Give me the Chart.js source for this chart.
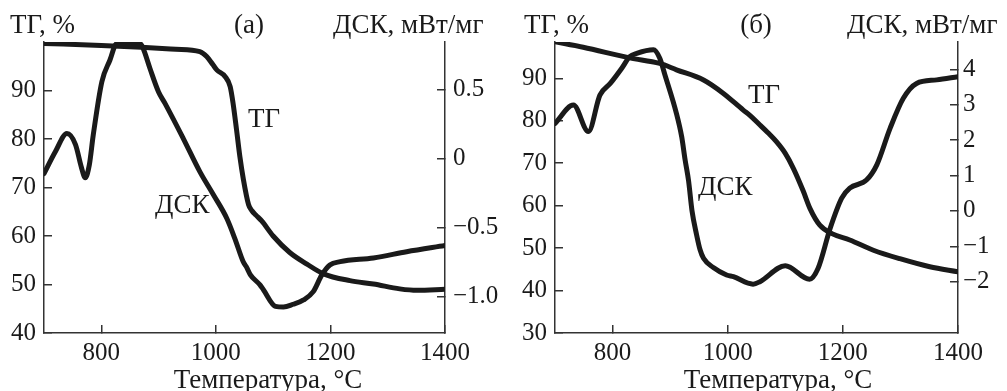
<!DOCTYPE html>
<html>
<head>
<meta charset="utf-8">
<script src="https://cdn.jsdelivr.net/npm/chart.js@4"></script>
<style>
	body { margin: 0; background: #fff; }
	#wrap { position: relative; width: 1007px; height: 391px; background: #fff; }
	canvas { position: absolute; top: 0; }
</style>
</head>
<body>
<div id="wrap">
	<canvas id="chartA" width="500" height="391" style="left:0"></canvas>
	<canvas id="chartB" width="507" height="391" style="left:500px"></canvas>
</div>
<script>
// Data

// Panel (a)
const tempTgA = [700, 800, 870, 930, 972, 984, 995, 1002, 1016, 1025, 1030, 1036, 1042, 1048, 1057, 1063, 1070, 1080, 1100, 1129, 1159, 1188, 1234, 1275, 1321, 1351, 1400];
const tgA = [99.7, 99.3, 98.9, 98.5, 98.0, 97.0, 95.3, 94.2, 92.9, 90.8, 87.4, 82.0, 76.3, 71.7, 66.5, 65.2, 64.3, 63.1, 60.0, 56.6, 54.2, 52.2, 50.8, 50.1, 49.1, 48.8, 49.0];

const tempDscA = [700, 720, 740, 755, 765, 772, 779, 786, 801, 815, 827, 868, 873, 885, 900, 911, 943, 972, 996, 1019, 1033, 1048, 1054, 1060, 1077, 1083, 1104, 1118, 1135, 1153, 1170, 1185, 1199, 1217, 1275, 1333, 1400];
const dscA = [-0.11, 0.05, 0.18, 0.10, -0.06, -0.14, -0.05, 0.17, 0.555, 0.71, 0.83, 0.83, 0.796, 0.65, 0.48, 0.40, 0.145, -0.096, -0.265, -0.433, -0.578, -0.75, -0.79, -0.84, -0.915, -0.95, -1.07, -1.075, -1.055, -1.024, -0.964, -0.843, -0.771, -0.747, -0.72, -0.675, -0.63];

// Panel (b)
const tempTgB = [700, 749, 830, 882, 911, 958, 992, 1027, 1039, 1056, 1069, 1085, 1100, 1114, 1131, 1143, 1160, 1181, 1212, 1253, 1299, 1351, 1400];
const tgB = [98.6, 97.3, 94.8, 93.5, 92.0, 89.6, 86.5, 82.5, 81.2, 79.0, 77.3, 75.0, 72.3, 68.8, 63.5, 59.3, 55.4, 53.4, 51.9, 49.5, 47.5, 45.6, 44.4];

const tempDscB = [700, 732, 758, 778, 796, 816, 830, 842, 871, 882, 891, 911, 920, 926, 932, 938, 946, 952, 958, 975, 998, 1010, 1044, 1056, 1100, 1142, 1157, 1178, 1198, 1212, 1241, 1259, 1282, 1305, 1328, 1363, 1400];
const dscB = [2.47, 2.99, 2.24, 3.27, 3.60, 4.03, 4.36, 4.45, 4.55, 4.31, 3.84, 2.75, 2.10, 1.44, 0.85, 0.0, -0.68, -1.1, -1.34, -1.6, -1.81, -1.86, -2.07, -2.0, -1.55, -1.93, -1.62, -0.49, 0.36, 0.64, 0.87, 1.30, 2.33, 3.18, 3.60, 3.70, 3.79];

// Tick labels
const xTicks = [800, 1000, 1200, 1400];
const tgTicksA = [40, 50, 60, 70, 80, 90];
const dscTicksA = [-1.0, -0.5, 0, 0.5];
const tgTicksB = [30, 40, 50, 60, 70, 80, 90];
const dscTicksB = [-2, -1, 0, 1, 2, 3, 4];

const ink = "#1a1a1a";
const axisColor = "#333";
const serif = '"Liberation Serif", "Times New Roman", serif';

Chart.defaults.font.family = serif;
Chart.defaults.font.size = 25;
Chart.defaults.color = ink;

function toPoints(xs, ys) {
	return xs.map((x, i) => ({ x: x, y: ys[i] }));
}

function minusSign(text) {
	return String(text).replace("-", "\u2212");
}

// draws the axis captions and curve labels
const textPlugin = {
	id: "panelText",
	afterDraw(chart, args, opts) {
		const ctx = chart.ctx;
		ctx.save();
		ctx.fillStyle = ink;
		ctx.font = "27px " + serif;
		ctx.textBaseline = "alphabetic";
		opts.items.forEach(function (t) {
			ctx.textAlign = t.align || "left";
			ctx.fillText(t.text, t.x, t.y);
		});
		ctx.restore();
	},
};

function lineSet(points, axisId) {
	return {
		data: points,
		yAxisID: axisId,
		borderColor: ink,
		borderWidth: 5,
		pointRadius: 0,
		fill: false,
		cubicInterpolationMode: "monotone",
		borderCapStyle: "round",
		borderJoinStyle: "round",
	};
}

function tickGrid() {
	return {
		display: true,
		drawOnChartArea: false,
		drawTicks: true,
		tickLength: -8,
		color: axisColor,
		tickColor: axisColor,
		lineWidth: 1.5,
		tickWidth: 1.5,
	};
}

function makePanel(canvasId, p) {
	const ctx = document.getElementById(canvasId).getContext("2d");
	return new Chart(ctx, {
		type: "line",
		data: {
			datasets: [
				lineSet(toPoints(p.tgTemp, p.tg), "y"),
				lineSet(toPoints(p.dscTemp, p.dsc), "y1"),
			],
		},
		options: {
			responsive: false,
			animation: false,
			layout: { padding: { top: 42, left: 0, right: 0, bottom: 0 } },
			plugins: {
				legend: { display: false },
				tooltip: { enabled: false },
				panelText: { items: p.texts },
			},
			scales: {
				x: {
					type: "linear",
					min: 700,
					max: 1400,
					afterBuildTicks: (s) => { s.ticks = xTicks.map((v) => ({ value: v })); },
					afterFit: (s) => { s.height = 58; },
					ticks: { padding: 13, maxRotation: 0, callback: (v) => String(v) },
					grid: tickGrid(),
					border: { display: true, color: axisColor, width: 1.5 },
				},
				y: {
					position: "left",
					min: p.tgMin,
					max: p.tgMax,
					afterBuildTicks: (s) => { s.ticks = p.tgTicks.map((v) => ({ value: v })); },
					afterFit: (s) => { s.width = p.leftWidth; },
					ticks: { padding: 16, callback: (v) => String(v) },
					grid: tickGrid(),
					border: { display: true, color: axisColor, width: 1.5 },
				},
				y1: {
					position: "right",
					min: p.dscMin,
					max: p.dscMax,
					afterBuildTicks: (s) => { s.ticks = p.dscTicks.map((v) => ({ value: v })); },
					afterFit: (s) => { s.width = p.rightWidth; },
					ticks: { padding: p.rightPad, callback: p.dscLabel },
					grid: tickGrid(),
					border: { display: true, color: axisColor, width: 1.5 },
				},
			},
		},
		plugins: [textPlugin],
	});
}

// Panel (a)
makePanel("chartA", {
	tgTemp: tempTgA, tg: tgA, dscTemp: tempDscA, dsc: dscA,
	tgMin: 40, tgMax: 100, tgTicks: tgTicksA,
	dscMin: -1.263, dscMax: 0.842, dscTicks: dscTicksA,
	dscLabel: (v) => (v === 0 ? "0" : minusSign(v.toFixed(1))),
	leftWidth: 44, rightWidth: 55, rightPad: 16,
	texts: [
		{ text: "ТГ, %", x: 10, y: 33 },
		{ text: "(а)", x: 249, y: 33, align: "center" },
		{ text: "ДСК, мВт/мг", x: 333, y: 33 },
		{ text: "ТГ", x: 248, y: 127 },
		{ text: "ДСК", x: 155, y: 213 },
		{ text: "Температура, °C", x: 268, y: 388, align: "center" },
	],
});

// Panel (b)
makePanel("chartB", {
	tgTemp: tempTgB, tg: tgB, dscTemp: tempDscB, dsc: dscB,
	tgMin: 30, tgMax: 98.55, tgTicks: tgTicksB,
	dscMin: -3.45, dscMax: 4.77, dscTicks: dscTicksB,
	dscLabel: (v) => minusSign(v),
	leftWidth: 55, rightWidth: 49, rightPad: 13,
	texts: [
		{ text: "ТГ, %", x: 24, y: 33 },
		{ text: "(б)", x: 256, y: 33, align: "center" },
		{ text: "ДСК, мВт/мг", x: 347, y: 33 },
		{ text: "ТГ", x: 248, y: 103 },
		{ text: "ДСК", x: 198, y: 195 },
		{ text: "Температура, °C", x: 278, y: 388, align: "center" },
	],
});
</script>
</body>
</html>
